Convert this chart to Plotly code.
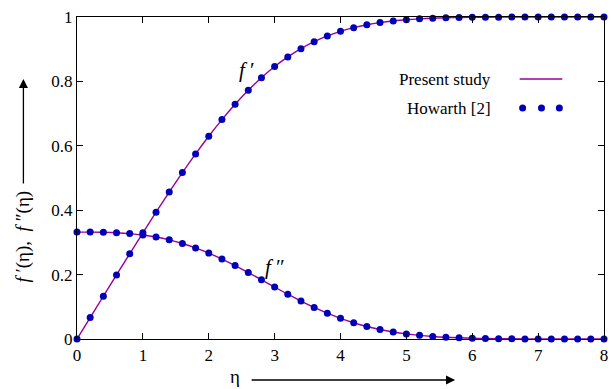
import plotly.graph_objects as go

eta = [0.0, 0.2, 0.4, 0.6, 0.8, 1.0, 1.2, 1.4, 1.6, 1.8, 2.0, 2.2, 2.4, 2.6, 2.8,
       3.0, 3.2, 3.4, 3.6, 3.8, 4.0, 4.2, 4.4, 4.6, 4.8, 5.0, 5.2, 5.4, 5.6, 5.8,
       6.0, 6.2, 6.4, 6.6, 6.8, 7.0, 7.2, 7.4, 7.6, 7.8, 8.0]
fp = [0.0, 0.06641, 0.13277, 0.19894, 0.26471, 0.32979, 0.39378, 0.45627, 0.51676,
      0.57477, 0.62977, 0.68132, 0.72899, 0.77246, 0.81152, 0.84605, 0.87609, 0.90177,
      0.92333, 0.94112, 0.95552, 0.96696, 0.97587, 0.98269, 0.98779, 0.99155, 0.99425,
      0.99616, 0.99748, 0.99838, 0.99898, 0.99937, 0.99961, 0.99977, 0.99987, 0.99992,
      0.99996, 0.99998, 0.99999, 1.0, 1.0]
fpp = [0.33206, 0.33199, 0.33147, 0.33008, 0.32739, 0.32301, 0.31659, 0.30787, 0.29667,
       0.28293, 0.26675, 0.24835, 0.22809, 0.20646, 0.18401, 0.16136, 0.13913, 0.11788,
       0.09809, 0.08013, 0.06424, 0.05052, 0.03897, 0.02948, 0.02187, 0.01591, 0.01134,
       0.00793, 0.00543, 0.00365, 0.00240, 0.00155, 0.00098, 0.00061, 0.00037, 0.00022,
       0.00013, 0.00007, 0.00004, 0.00002, 0.00001]
xticks = [0, 1, 2, 3, 4, 5, 6, 7, 8]
yticks = [0, 0.2, 0.4, 0.6, 0.8, 1]
ytick_labels = ["0", "0.2", "0.4", "0.6", "0.8", "1"]

LINE = "#990099"
DOT = "#0000B8"
FONT = "Liberation Serif, Times New Roman, serif"

fig = go.Figure()
for ys in (fp, fpp):
    fig.add_trace(go.Scatter(x=eta, y=ys, mode="lines", line=dict(color=LINE, width=1.4, shape="spline"),
                             showlegend=False, hoverinfo="skip"))
for ys in (fp, fpp):
    fig.add_trace(go.Scatter(x=eta, y=ys, mode="markers", marker=dict(color=DOT, size=7),
                             showlegend=False, cliponaxis=False))

axis_common = dict(showgrid=False, zeroline=False, showline=True, linecolor="black", linewidth=1.3,
                   mirror="ticks", ticks="inside", ticklen=6, tickwidth=1.2, tickcolor="black",
                   tickfont=dict(family=FONT, size=17, color="black"))
fig.update_xaxes(range=[0, 8], tickvals=xticks, **axis_common)
fig.update_yaxes(range=[0, 1], tickvals=yticks, ticktext=ytick_labels, **axis_common)


def px(xp):
    return (xp - 77) / 531


def py(yp):
    return (339 - yp) / 322


ann = []
# curve labels
ann.append(dict(x=2.58, y=0.835, xref="x", yref="y", text="<i>f</i> ′", showarrow=False,
                xanchor="center", yanchor="middle", font=dict(family=FONT, size=21, color="black")))
ann.append(dict(x=3.0, y=0.225, xref="x", yref="y", text="<i>f</i> ″", showarrow=False,
                xanchor="center", yanchor="middle", font=dict(family=FONT, size=21, color="black")))
# axis titles
ann.append(dict(x=px(23), y=py(236), xref="paper", yref="paper", text="<i>f</i> ′(η),  <i>f</i> ″(η)",
                textangle=-90, showarrow=False, xanchor="center", yanchor="middle",
                font=dict(family=FONT, size=19, color="black")))
ann.append(dict(x=px(236), y=py(377), xref="paper", yref="paper", text="η", showarrow=False,
                xanchor="center", yanchor="middle", font=dict(family=FONT, size=19, color="black")))
# arrows
ann.append(dict(x=px(23), y=py(79), xref="paper", yref="paper", ax=0, ay=106, text="",
                showarrow=True, arrowhead=2, arrowsize=1.4, arrowwidth=1.3, arrowcolor="black"))
ann.append(dict(x=px(458), y=py(380), xref="paper", yref="paper", ax=-205, ay=0, text="",
                showarrow=True, arrowhead=2, arrowsize=1.4, arrowwidth=1.3, arrowcolor="black"))
# legend text
ann.append(dict(x=px(496), y=py(79), xref="paper", yref="paper", xanchor="right", yanchor="middle",
                text="Present study", showarrow=False, font=dict(family=FONT, size=17, color="black")))
ann.append(dict(x=px(496), y=py(108), xref="paper", yref="paper", xanchor="right", yanchor="middle",
                text="Howarth [2]", showarrow=False, font=dict(family=FONT, size=17, color="black")))

shapes = [dict(type="line", xref="paper", yref="paper", x0=px(523), x1=px(566),
               y0=py(79), y1=py(79), line=dict(color=LINE, width=1.4))]
for dx in (526, 545, 563):
    shapes.append(dict(type="circle", xref="paper", yref="paper", xsizemode="pixel", ysizemode="pixel",
                       xanchor=px(dx), yanchor=py(108), x0=-3.5, x1=3.5, y0=-3.5, y1=3.5,
                       fillcolor=DOT, line=dict(width=0)))

fig.update_layout(width=613, height=389, margin=dict(l=77, r=5, t=17, b=50),
                  paper_bgcolor="white", plot_bgcolor="white", annotations=ann, shapes=shapes,
                  font=dict(family=FONT))
fig.write_html("out.html")
